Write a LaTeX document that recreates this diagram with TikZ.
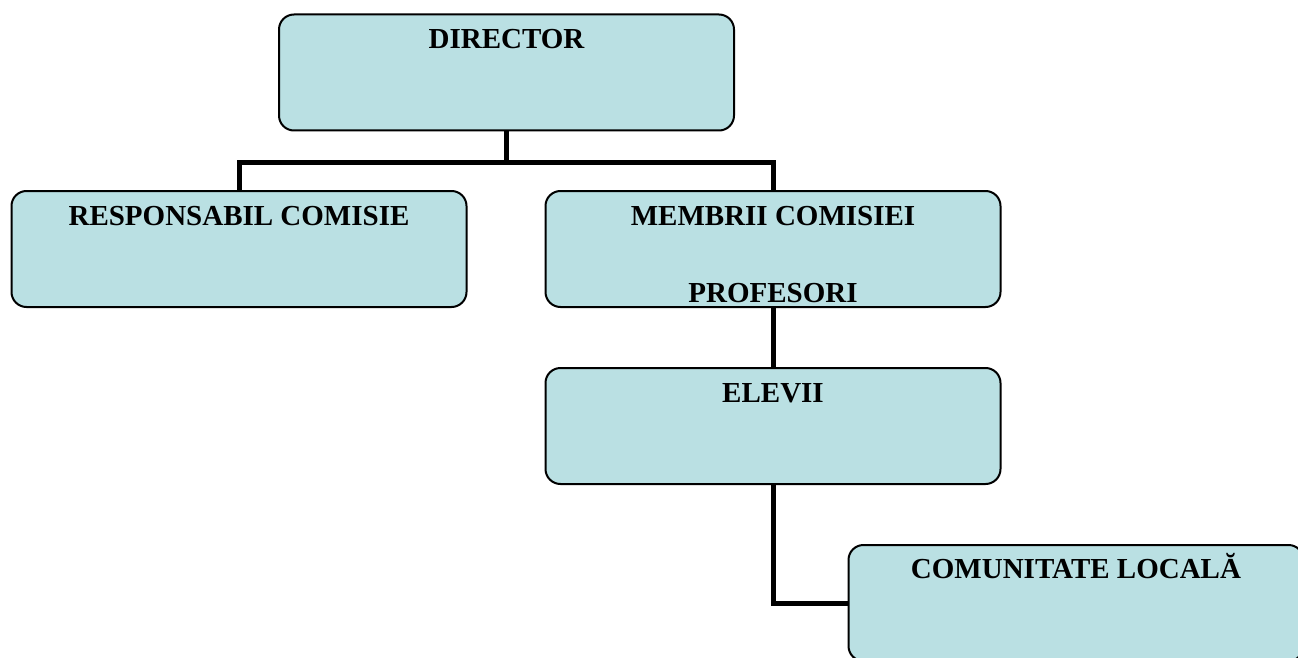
\documentclass[tikz,border=0pt]{standalone}
\usepackage{fontspec}
\setmainfont{Liberation Serif}
\usetikzlibrary{positioning}
\definecolor{boxfill}{RGB}{186,224,227}

\begin{document}
\begin{tikzpicture}[x=1pt,y=-1pt,
  box/.style={draw=black,line width=2pt,fill=boxfill,rounded corners=15pt,
    minimum width=455pt,minimum height=116pt,inner sep=0pt},
  txt/.style={anchor=base,inner sep=0pt,font=\fontsize{29}{33}\selectfont\bfseries},
  conn/.style={line width=5pt}]
\useasboundingbox (0,0) rectangle (1298,658);
% boxes
\node[box] (dir) at (506.5,72.5) {};
\node[box] (resp) at (239,249) {};
\node[box] (memb) at (773,249) {};
\node[box] (elev) at (773,426) {};
\node[box] (com) at (1076,603) {};
% texts
\node[txt] (dirt) at ([yshift=-35]dir.north) {DIRECTOR};
\node[txt] (respt) at ([yshift=-35]resp.north) {RESPONSABIL COMISIE};
\node[txt] (membt) at ([yshift=-35]memb.north) {MEMBRII COMISIEI};
\node[txt] (proft) at ([yshift=-112]memb.north) {PROFESORI};
\node[txt] (elevt) at ([yshift=-35]elev.north) {ELEVII};
\node[txt] (comt) at ([yshift=-34]com.north) {COMUNITATE LOCALĂ};
% connectors
\coordinate (bus) at (506.5,162);
\draw[conn] (dir.south) -- (bus);
\draw[conn] (resp.north) -- (resp.north |- bus) -- (memb.north |- bus) -- (memb.north);
\draw[conn] (memb.south) -- (elev.north);
\draw[conn] (elev.south) |- (com.west);
\end{tikzpicture}
\end{document}
